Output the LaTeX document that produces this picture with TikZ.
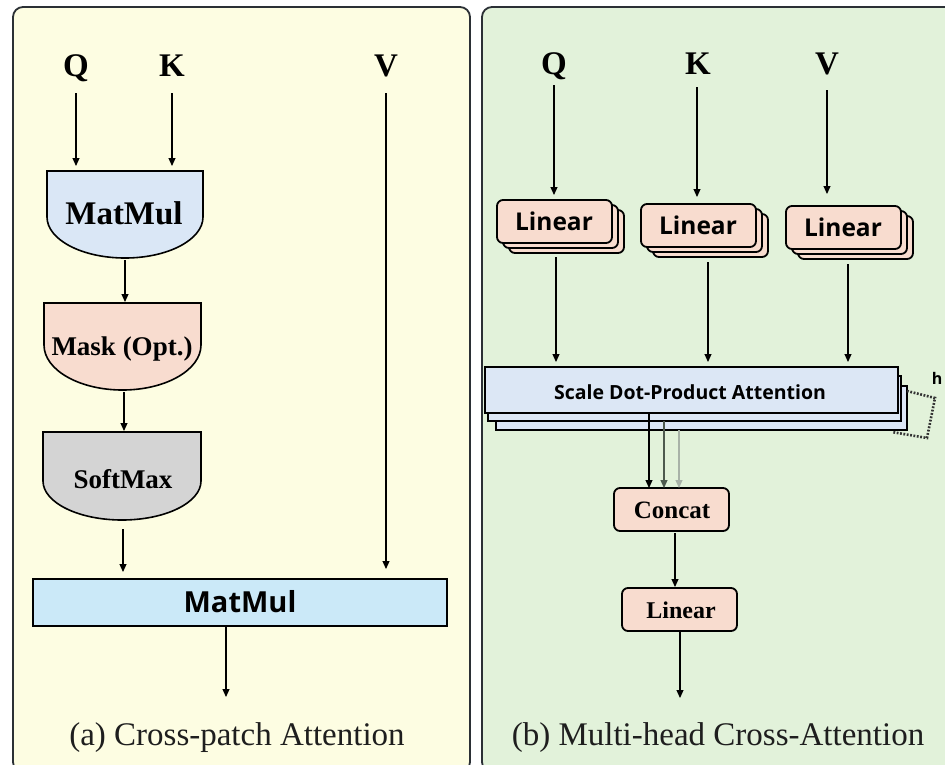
\documentclass[tikz,border=0pt]{standalone}
\usepackage{fontspec}
\setmainfont{Liberation Serif}
\newfontfamily\uisans{Open Sans}
\usetikzlibrary{arrows.meta}

\definecolor{panelline}{HTML}{2B3035}
\definecolor{leftbg}{HTML}{FDFDE2}
\definecolor{rightbg}{HTML}{E2F2DA}
\definecolor{mmblue}{HTML}{DAE7F6}
\definecolor{peach}{HTML}{F8DCCF}
\definecolor{softgrey}{HTML}{D4D4D4}
\definecolor{barcyan}{HTML}{CBE9F8}
\definecolor{sdpablue}{HTML}{DCE7F5}
\definecolor{headmid}{HTML}{4E5A4E}
\definecolor{headlight}{HTML}{A8B2A8}
\definecolor{captext}{HTML}{1E1E1E}

% half-round "gate" block: fill, left x, right x, top y, start of the curve, curve depth
\newcommand\gatepath[6]{%
  \filldraw[gate, fill=#1] (#2,#4) -- (#3,#4) -- (#3,#5)
    arc[start angle=0, end angle=-180, x radius={((#3)-(#2))/2*1pt}, y radius=#6pt] -- cycle;}

\begin{document}
\begin{tikzpicture}[x=1pt, y=-1pt,
  panel/.style={draw=panelline, line width=1.8pt, rounded corners=10pt},
  gate/.style={draw=black, line width=1.6pt},
  flow/.style={-{Triangle[length=8pt,width=7pt]}, line width=1.1pt, draw=black},
  io/.style={font=\bfseries\fontsize{33}{33}\selectfont, anchor=base, inner sep=0pt},
  serifbold/.style={font=\bfseries\fontsize{#1}{#1}\selectfont, inner sep=0pt},
  sansbold/.style={font=\uisans\bfseries\fontsize{#1}{#1}\selectfont, inner sep=0pt},
  linbox/.style={draw=black, line width=1.8pt, rounded corners=6pt, fill=peach},
  sdpabox/.style={draw=black, line width=1.8pt, fill=sdpablue},
  caption/.style={font=\fontsize{33}{33}\selectfont, text=captext, inner sep=0pt}]

\useasboundingbox (0,0) rectangle (945,764);
\clip (0,0) rectangle (945,764);
\fill[white] (0,0) rectangle (945,764);

% ---------- panels ----------
\filldraw[panel, fill=leftbg]  (13,7)  rectangle (470,772);
\filldraw[panel, fill=rightbg] (482,7) rectangle (958,772);

% ================= (a) Cross-patch Attention =================
\node[io] (qa) at (76,76)  {Q};
\node[io] (ka) at (172,76) {K};
\node[io] (va) at (386,76) {V};

\gatepath{mmblue}{47}{203}{171}{217}{41}
\node[serifbold=33] (mm1) at (124,213) {MatMul};
\gatepath{peach}{44}{201}{303}{345}{45}
\node[serifbold=27] (mask) at (122,349) {Mask (Opt.)};
\gatepath{softgrey}{43}{201}{432}{481}{39}
\node[serifbold=27] (smax) at (123,479) {SoftMax};

\draw[line width=1.8pt, fill=barcyan] (33,579) rectangle (447,626);
\node[sansbold=29] (mm2) at (240,602) {MatMul};

\coordinate (qa-s)   at (76,93);
\coordinate (ka-s)   at (172,93);
\coordinate (va-s)   at (386,93);
\coordinate (mm1-q)  at (76,166);
\coordinate (mm1-k)  at (172,166);
\coordinate (mm1-s)  at (125,260);
\coordinate (mask-n) at (125,302);
\coordinate (mask-s) at (124,392);
\coordinate (smax-n) at (124,431);
\coordinate (smax-s) at (123,529);
\coordinate (mm2-a)  at (123,572);
\coordinate (mm2-v)  at (386,569);
\coordinate (mm2-s)  at (226,626);
\coordinate (outa)   at (226,697);

\draw[flow] (qa-s) -- (mm1-q);
\draw[flow] (ka-s) -- (mm1-k);
\draw[flow] (mm1-s) -- (mask-n);
\draw[flow] (mask-s) -- (smax-n);
\draw[flow] (smax-s) -- (mm2-a);
\draw[flow] (va-s) -- (mm2-v);
\draw[flow] (mm2-s) -- (outa);

\node[caption] (capa) at (237,738) {(a) Cross-patch Attention};

% ================= (b) Multi-head Cross-Attention =================
\node[io] (qb) at (554,74) {Q};
\node[io] (kb) at (698,74) {K};
\node[io] (vb) at (827,74) {V};

% stacked Linear projections (one per head)
\foreach \x/\y/\n in {497/200/lq, 641/204/lk, 786/206/lv}{
  \draw[linbox] (\x+12,\y+10) rectangle ++(115,43);
  \draw[linbox] (\x+6,\y+5)   rectangle ++(115,43);
  \draw[linbox] (\x,\y)       rectangle ++(115,43);
  \node[sansbold=24.5] (\n) at (\x+57,\y+21.5) {Linear};
}

% stacked attention heads
\draw[sdpabox] (496,386) rectangle (907,430);
\draw[sdpabox] (488,376) rectangle (901,421);
\draw[sdpabox] (485,367) rectangle (898,413);
\node[sansbold=19.5] (sdpa) at (690,392) {Scale Dot-Product Attention};

% head count bracket
\draw[line width=2.6pt, draw=black!80, dash pattern=on 1.8pt off 1.6pt]
  (907,391) -- (935,398) -- (927,438) -- (892,432);
\node[sansbold=16] (hlab) at (937,378) {h};

\draw[linbox] (614,488) rectangle (729,531);
\node[serifbold=25] (concat) at (672,510) {Concat};
\draw[linbox] (622,588) rectangle (737,631);
\node[serifbold=24] (linb) at (681,610) {Linear};

\coordinate (qb-s) at (554,85);
\coordinate (kb-s) at (697,87);
\coordinate (vb-s) at (827,90);
\coordinate (lq-n) at (554,195);
\coordinate (lk-n) at (697,197);
\coordinate (lv-n) at (827,194);
\coordinate (lq-s) at (556,257);
\coordinate (lk-s) at (708,262);
\coordinate (lv-s) at (848,264);
\coordinate (sd-q) at (556,362);
\coordinate (sd-k) at (708,362);
\coordinate (sd-v) at (848,362);
\coordinate (h1-s) at (649,413);
\coordinate (h2-s) at (664,421);
\coordinate (h3-s) at (679,430);
\coordinate (c1-n) at (649,488);
\coordinate (c2-n) at (664,488);
\coordinate (c3-n) at (679,488);
\coordinate (cc-s) at (675,533);
\coordinate (lb-n) at (675,587);
\coordinate (lb-s) at (680,631);
\coordinate (outb) at (680,698);

\draw[flow] (qb-s) -- (lq-n);
\draw[flow] (kb-s) -- (lk-n);
\draw[flow] (vb-s) -- (lv-n);
\draw[flow] (lq-s) -- (sd-q);
\draw[flow] (lk-s) -- (sd-k);
\draw[flow] (lv-s) -- (sd-v);
\draw[flow, draw=headlight, fill=headlight] (h3-s) -- (c3-n);
\draw[flow, draw=headmid, fill=headmid] (h2-s) -- (c2-n);
\draw[flow] (h1-s) -- (c1-n);
\draw[flow] (cc-s) -- (lb-n);
\draw[flow] (lb-s) -- (outb);

\node[caption] (capb) at (718,738) {(b) Multi-head Cross-Attention};

\end{tikzpicture}
\end{document}
